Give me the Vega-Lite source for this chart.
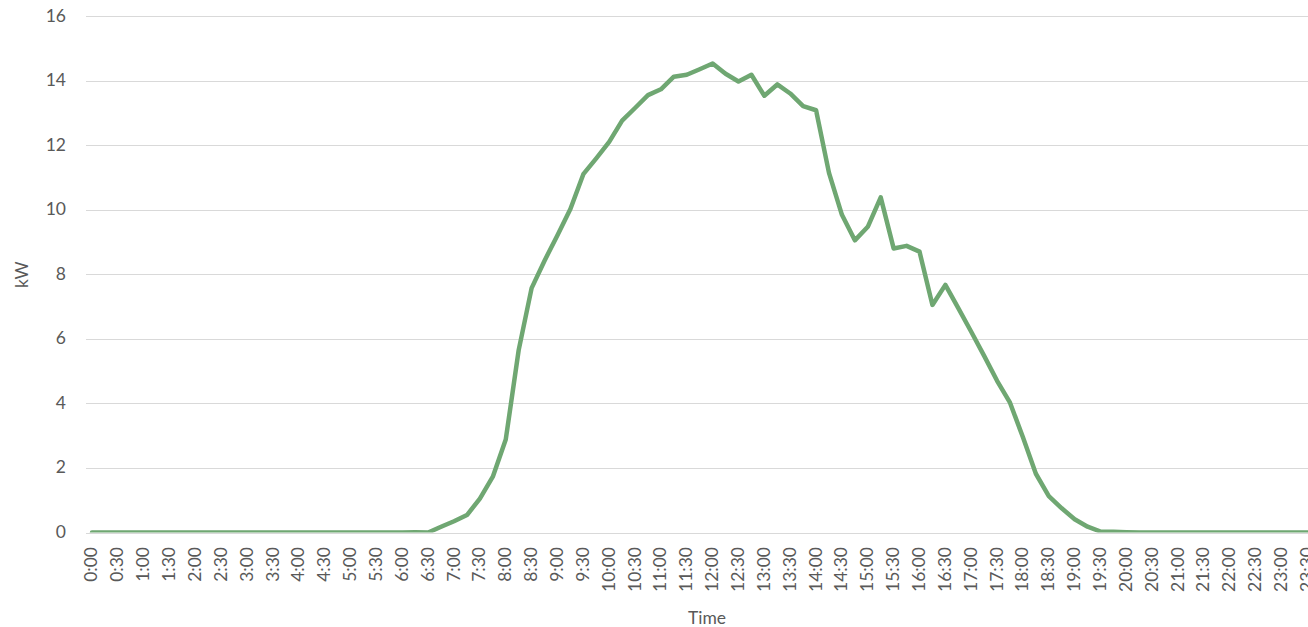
{
  "$schema": "https://vega.github.io/schema/vega-lite/v6.json",
  "width": 1222.5,
  "height": 516.5,
  "autosize": "none",
  "padding": {"left": 85.5, "top": 16, "right": 0, "bottom": 94},
  "background": "white",
  "config": {
    "view": {"stroke": null},
    "font": "Lato",
    "axis": {
      "labelFont": "Lato",
      "titleFont": "Lato",
      "labelColor": "#595959",
      "titleColor": "#595959",
      "labelFontSize": 17.5,
      "titleFontSize": 17.5,
      "titleFontWeight": "normal",
      "ticks": false,
      "domain": false
    }
  },
  "data": {
    "values": [
      {"minute": 0, "kW": 0}, {"minute": 15, "kW": 0}, {"minute": 30, "kW": 0}, {"minute": 45, "kW": 0},
      {"minute": 60, "kW": 0}, {"minute": 75, "kW": 0}, {"minute": 90, "kW": 0}, {"minute": 105, "kW": 0},
      {"minute": 120, "kW": 0}, {"minute": 135, "kW": 0}, {"minute": 150, "kW": 0}, {"minute": 165, "kW": 0},
      {"minute": 180, "kW": 0}, {"minute": 195, "kW": 0}, {"minute": 210, "kW": 0}, {"minute": 225, "kW": 0},
      {"minute": 240, "kW": 0}, {"minute": 255, "kW": 0}, {"minute": 270, "kW": 0}, {"minute": 285, "kW": 0},
      {"minute": 300, "kW": 0}, {"minute": 315, "kW": 0}, {"minute": 330, "kW": 0}, {"minute": 345, "kW": 0},
      {"minute": 360, "kW": 0}, {"minute": 375, "kW": 0.01}, {"minute": 390, "kW": 0},
      {"minute": 405, "kW": 0.18}, {"minute": 420, "kW": 0.35}, {"minute": 435, "kW": 0.54},
      {"minute": 450, "kW": 1.05}, {"minute": 465, "kW": 1.73}, {"minute": 480, "kW": 2.88},
      {"minute": 495, "kW": 5.65}, {"minute": 510, "kW": 7.57}, {"minute": 525, "kW": 8.42},
      {"minute": 540, "kW": 9.21}, {"minute": 555, "kW": 10.02}, {"minute": 570, "kW": 11.1},
      {"minute": 585, "kW": 11.59}, {"minute": 600, "kW": 12.1}, {"minute": 615, "kW": 12.76},
      {"minute": 630, "kW": 13.15}, {"minute": 645, "kW": 13.55}, {"minute": 660, "kW": 13.73},
      {"minute": 675, "kW": 14.12}, {"minute": 690, "kW": 14.18}, {"minute": 705, "kW": 14.35},
      {"minute": 720, "kW": 14.53}, {"minute": 735, "kW": 14.21}, {"minute": 750, "kW": 13.97},
      {"minute": 765, "kW": 14.18}, {"minute": 780, "kW": 13.53}, {"minute": 795, "kW": 13.88},
      {"minute": 810, "kW": 13.6}, {"minute": 825, "kW": 13.21}, {"minute": 840, "kW": 13.08},
      {"minute": 855, "kW": 11.14}, {"minute": 870, "kW": 9.84}, {"minute": 885, "kW": 9.05},
      {"minute": 900, "kW": 9.47}, {"minute": 915, "kW": 10.38}, {"minute": 930, "kW": 8.8},
      {"minute": 945, "kW": 8.88}, {"minute": 960, "kW": 8.7}, {"minute": 975, "kW": 7.05},
      {"minute": 990, "kW": 7.67}, {"minute": 1005, "kW": 6.95}, {"minute": 1020, "kW": 6.22},
      {"minute": 1035, "kW": 5.47}, {"minute": 1050, "kW": 4.7}, {"minute": 1065, "kW": 4.02},
      {"minute": 1080, "kW": 2.95}, {"minute": 1095, "kW": 1.82}, {"minute": 1110, "kW": 1.13},
      {"minute": 1125, "kW": 0.75}, {"minute": 1140, "kW": 0.41}, {"minute": 1155, "kW": 0.18},
      {"minute": 1170, "kW": 0.03}, {"minute": 1185, "kW": 0.02}, {"minute": 1200, "kW": 0.01},
      {"minute": 1215, "kW": 0}, {"minute": 1230, "kW": 0}, {"minute": 1245, "kW": 0},
      {"minute": 1260, "kW": 0}, {"minute": 1275, "kW": 0}, {"minute": 1290, "kW": 0},
      {"minute": 1305, "kW": 0}, {"minute": 1320, "kW": 0}, {"minute": 1335, "kW": 0},
      {"minute": 1350, "kW": 0}, {"minute": 1365, "kW": 0}, {"minute": 1380, "kW": 0},
      {"minute": 1395, "kW": 0}, {"minute": 1410, "kW": 0}, {"minute": 1425, "kW": 0}
    ]
  },
  "mark": {
    "type": "line",
    "color": "#6FA772",
    "strokeWidth": 4.5,
    "strokeJoin": "round",
    "strokeCap": "round",
    "clip": true
  },
  "encoding": {
    "x": {
      "field": "minute",
      "type": "quantitative",
      "title": "Time",
      "scale": {"domain": [-7.54, 1410.7], "nice": false, "zero": false},
      "axis": {
        "grid": false,
        "values": [0, 30, 60, 90, 120, 150, 180, 210, 240, 270, 300, 330, 360, 390, 420, 450, 480, 510, 540, 570, 600, 630, 660, 690, 720, 750, 780, 810, 840, 870, 900, 930, 960, 990, 1020, 1050, 1080, 1110, 1140, 1170, 1200, 1230, 1260, 1290, 1320, 1350, 1380, 1410],
        "labelExpr": "floor(datum.value / 60) + ':' + (datum.value % 60 == 0 ? '00' : '30')",
        "labelAngle": 270,
        "labelAlign": "right",
        "labelBaseline": "middle",
        "labelPadding": 14,
        "labelOverlap": false,
        "labelBound": false,
        "labelFlush": false,
        "titleX": 621,
        "titleY": 90.5,
        "titleAlign": "center",
        "titleBaseline": "alphabetic"
      }
    },
    "y": {
      "field": "kW",
      "type": "quantitative",
      "title": "kW",
      "scale": {"domain": [0, 16], "nice": false},
      "axis": {
        "values": [0, 2, 4, 6, 8, 10, 12, 14, 16],
        "grid": true,
        "gridColor": "#D9D9D9",
        "gridWidth": 1.2,
        "labelPadding": 20,
        "titlePadding": 14
      }
    }
  }
}
